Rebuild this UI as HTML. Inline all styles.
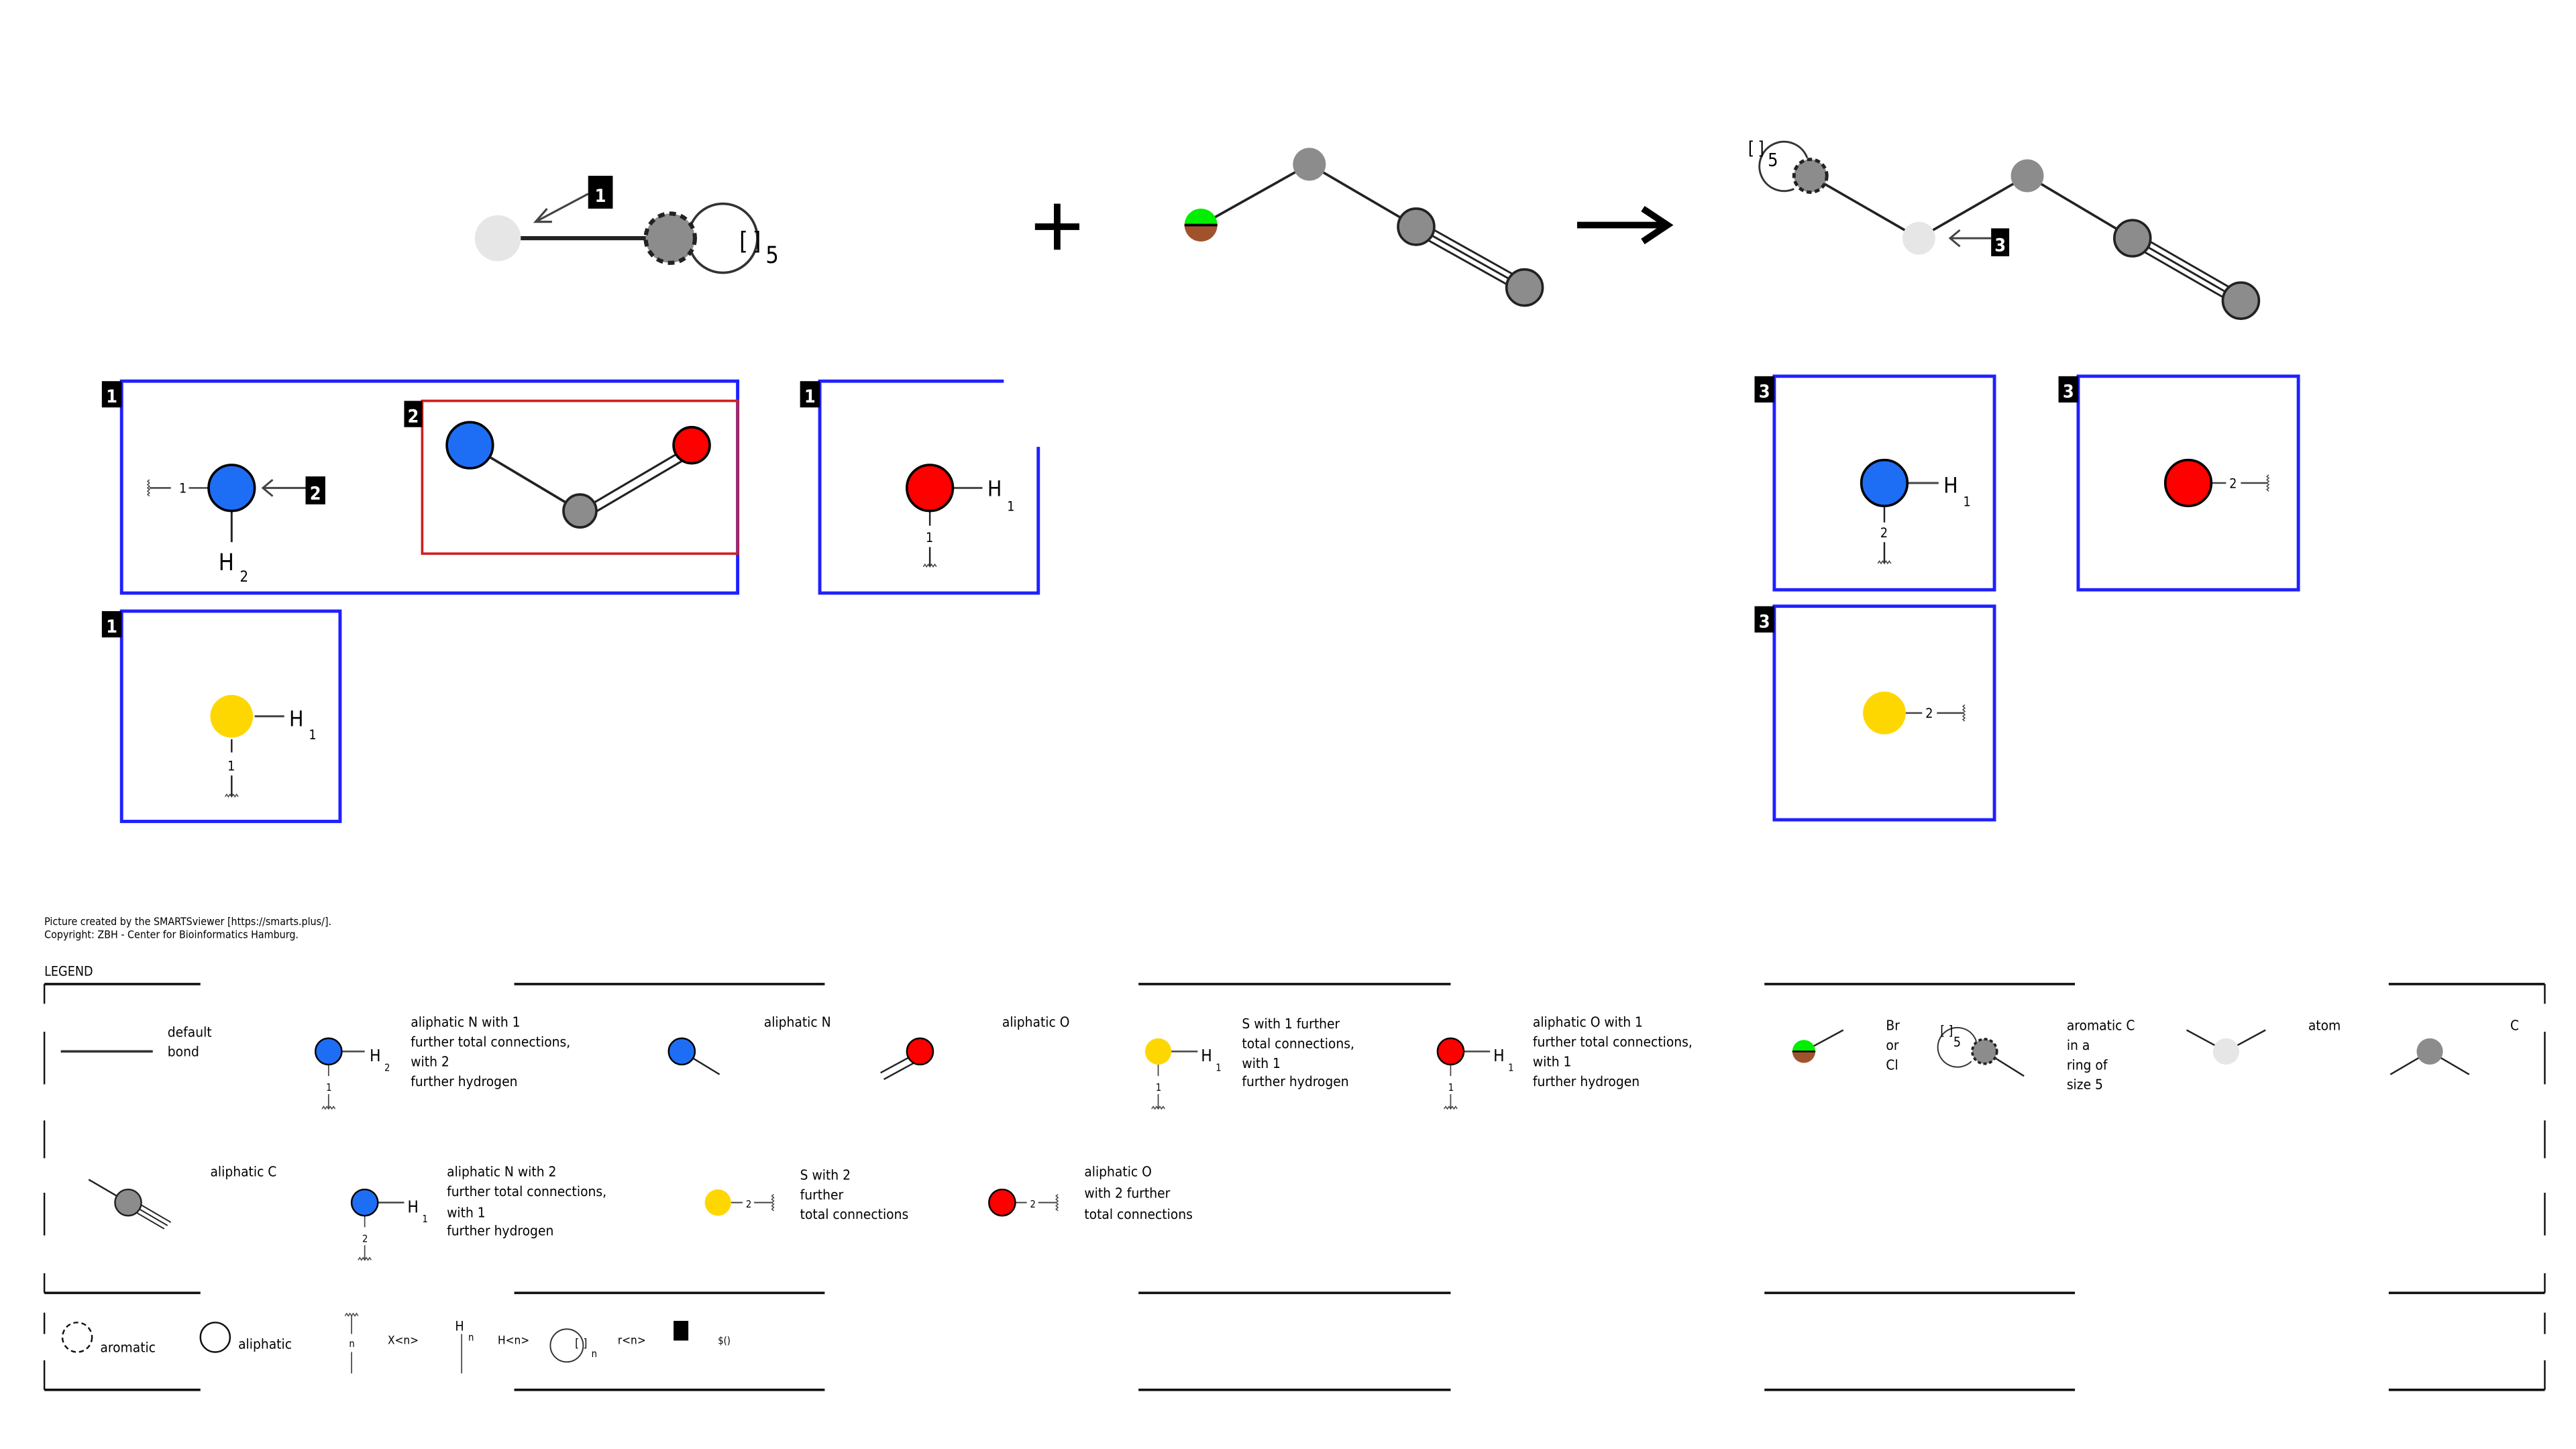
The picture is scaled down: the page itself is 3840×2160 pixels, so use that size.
<!DOCTYPE html>
<html><head><meta charset="utf-8"><style>
html,body{margin:0;padding:0;background:#fff;}
svg{display:block;}
text{font-family:"DejaVu Sans Condensed","DejaVu Sans","Liberation Sans",sans-serif;fill:#000;white-space:pre;}
.t{font-size:8.5px;}
.lbl{fill:#fff;font-size:11px;font-weight:bold;}
</style></head><body>
<svg width="3840" height="2160" viewBox="0 0 1568 882" xmlns="http://www.w3.org/2000/svg">
<rect width="1568" height="882" fill="#fff"/>
<defs>
<path id="wavyV" d="M-4,0 l1,-1.5 l1,1.5 l1,-1.5 l1,1.5 l1,-1.5 l1,1.5 l1,-1.5 l1,1.5" fill="none" stroke="#444" stroke-width="0.6"/>
<path id="wavyH" d="M0,-5 l-1.2,1 l1.2,1 l-1.2,1 l1.2,1 l-1.2,1 l1.2,1 l-1.2,1 l1.2,1 l-1.2,1 l1.2,1" fill="none" stroke="#444" stroke-width="0.6"/>
</defs>

<!-- Reactant 1 -->
<line x1="303" y1="145" x2="408" y2="145" stroke="#222" stroke-width="2.5"/>
<circle cx="303" cy="145" r="14" fill="#e6e6e6"/>
<circle cx="440" cy="145" r="21" fill="none" stroke="#333" stroke-width="1.5"/>
<circle cx="408" cy="145" r="15" fill="#8c8c8c" stroke="#222" stroke-width="2.5" stroke-dasharray="4 3"/>
<text x="450" y="152" font-size="15" fill="#666">[</text><text x="458" y="152" font-size="15" fill="#666">]</text>
<text x="466" y="160" font-size="14" fill="#444">5</text>
<line x1="358" y1="118" x2="326" y2="135" stroke="#444" stroke-width="1.3"/>
<polyline points="333,127 326,135 336,135" fill="none" stroke="#444" stroke-width="1.3"/>
<rect x="358" y="107" width="15" height="20" fill="#000"/>
<text x="365.5" y="123" class="lbl" font-size="15" text-anchor="middle">1</text>

<!-- plus -->
<line x1="630" y1="138" x2="657" y2="138" stroke="#000" stroke-width="4"/>
<line x1="643.5" y1="124" x2="643.5" y2="152" stroke="#000" stroke-width="4"/>

<!-- Reactant 2 -->
<line x1="731" y1="137" x2="797" y2="100" stroke="#222" stroke-width="1.5"/>
<line x1="797" y1="100" x2="862" y2="138" stroke="#222" stroke-width="1.5"/>
<g stroke="#222" stroke-width="1.2">
<line x1="862" y1="138" x2="928" y2="175"/>
<line x1="864" y1="135" x2="930" y2="172"/>
<line x1="860" y1="141" x2="926" y2="178"/>
</g>
<path d="M721,137 a10,10 0 0 1 20,0 z" fill="#00ee00"/>
<path d="M721,137 a10,10 0 0 0 20,0 z" fill="#a0522d"/>
<line x1="721" y1="137" x2="741" y2="137" stroke="#000" stroke-width="1.5"/>
<circle cx="797" cy="100" r="10" fill="#8c8c8c"/>
<circle cx="862" cy="138" r="11" fill="#8c8c8c" stroke="#222" stroke-width="1.5"/>
<circle cx="928" cy="175" r="11" fill="#8c8c8c" stroke="#222" stroke-width="1.5"/>

<!-- arrow -->
<line x1="960" y1="137" x2="1013" y2="137" stroke="#000" stroke-width="4"/>
<polyline points="1000,127 1015,137 1000,147" fill="none" stroke="#000" stroke-width="4"/>

<!-- Product -->
<path d="M1100,96 A15,15 0 1 0 1092,115" fill="none" stroke="#333" stroke-width="1.2"/>
<text x="1064" y="94" font-size="11" fill="#666">[</text><text x="1070" y="94" font-size="11" fill="#666">]</text>
<text x="1076" y="101" font-size="11" fill="#444">5</text>
<line x1="1102" y1="107" x2="1168" y2="145" stroke="#222" stroke-width="1.5"/>
<line x1="1168" y1="145" x2="1234" y2="107" stroke="#222" stroke-width="1.5"/>
<line x1="1234" y1="107" x2="1298" y2="145" stroke="#222" stroke-width="1.5"/>
<g stroke="#222" stroke-width="1.2">
<line x1="1298" y1="145" x2="1364" y2="183"/>
<line x1="1300" y1="142" x2="1366" y2="180"/>
<line x1="1296" y1="148" x2="1362" y2="186"/>
</g>
<circle cx="1102" cy="107" r="10" fill="#8c8c8c" stroke="#222" stroke-width="2" stroke-dasharray="3 2"/>
<circle cx="1168" cy="145" r="10" fill="#e6e6e6"/>
<circle cx="1234" cy="107" r="10" fill="#8c8c8c"/>
<circle cx="1298" cy="145" r="11" fill="#8c8c8c" stroke="#222" stroke-width="1.5"/>
<circle cx="1364" cy="183" r="11" fill="#8c8c8c" stroke="#222" stroke-width="1.5"/>
<line x1="1212" y1="145" x2="1187" y2="145" stroke="#444" stroke-width="1.2"/>
<polyline points="1193,140 1187,145 1193,150" fill="none" stroke="#444" stroke-width="1.2"/>
<rect x="1212" y="139" width="11" height="17" fill="#000"/>
<text x="1217.5" y="153" class="lbl" font-size="13" text-anchor="middle">3</text>

<!-- Box A -->
<rect x="74" y="232" width="375" height="129" fill="none" stroke="#2020ff" stroke-width="2"/>
<rect x="62" y="232" width="12" height="16" fill="#000"/><text x="68" y="245" class="lbl" text-anchor="middle">1</text>
<rect x="257" y="244" width="192" height="93" fill="none" stroke="#d02020" stroke-width="1.5"/>
<rect x="246" y="244" width="11" height="16" fill="#000"/><text x="251.5" y="257" class="lbl" text-anchor="middle">2</text>
<use href="#wavyH" x="91" y="297"/>
<line x1="91" y1="297" x2="104" y2="297" stroke="#444" stroke-width="1"/>
<text x="109" y="300" font-size="8" fill="#444">1</text>
<line x1="115" y1="297" x2="127" y2="297" stroke="#444" stroke-width="1"/>
<line x1="141" y1="311" x2="141" y2="330" stroke="#222" stroke-width="1.2"/>
<circle cx="141" cy="297" r="14" fill="#1e6ef5" stroke="#000" stroke-width="1.5"/>
<line x1="186" y1="297" x2="160" y2="297" stroke="#444" stroke-width="1.2"/>
<polyline points="166,292 160,297 166,302" fill="none" stroke="#444" stroke-width="1.2"/>
<rect x="186" y="290" width="12" height="17" fill="#000"/><text x="192" y="304" class="lbl" font-size="13" text-anchor="middle">2</text>
<text x="133" y="347" font-size="14">H</text><text x="146" y="354" font-size="9">2</text>
<line x1="286" y1="271" x2="353" y2="311" stroke="#222" stroke-width="1.5"/>
<line x1="353" y1="311" x2="421" y2="271" stroke="#222" stroke-width="1.3"/>
<line x1="355" y1="316" x2="423" y2="276" stroke="#222" stroke-width="1.3"/>
<circle cx="286" cy="271" r="14" fill="#1e6ef5" stroke="#000" stroke-width="1.5"/>
<circle cx="353" cy="311" r="10" fill="#8c8c8c" stroke="#222" stroke-width="1.5"/>
<circle cx="421" cy="271" r="11" fill="#ff0000" stroke="#000" stroke-width="1.5"/>

<!-- Box B -->
<polyline points="611,232 499,232 499,361 632,361 632,272" fill="none" stroke="#2020ff" stroke-width="2"/>
<rect x="487" y="232" width="12" height="16" fill="#000"/><text x="493" y="245" class="lbl" text-anchor="middle">1</text>
<line x1="566" y1="311" x2="566" y2="320" stroke="#222" stroke-width="1"/>
<text x="563.5" y="330" font-size="8" fill="#444">1</text>
<line x1="566" y1="333" x2="566" y2="345" stroke="#222" stroke-width="1"/>
<use href="#wavyV" x="566" y="345"/>
<line x1="580" y1="297" x2="598" y2="297" stroke="#444" stroke-width="1.2"/>
<text x="601" y="302" font-size="13">H</text><text x="613" y="311" font-size="8">1</text>
<circle cx="566" cy="297" r="14" fill="#ff0000" stroke="#000" stroke-width="1.5"/>

<!-- Box C -->
<rect x="74" y="372" width="133" height="128" fill="none" stroke="#2020ff" stroke-width="2"/>
<rect x="62" y="372" width="12" height="16" fill="#000"/><text x="68" y="385" class="lbl" text-anchor="middle">1</text>
<line x1="141" y1="450" x2="141" y2="458" stroke="#222" stroke-width="1"/>
<text x="138.5" y="469" font-size="8" fill="#444">1</text>
<line x1="141" y1="472" x2="141" y2="485" stroke="#222" stroke-width="1"/>
<use href="#wavyV" x="141" y="485"/>
<line x1="155" y1="436" x2="173" y2="436" stroke="#444" stroke-width="1.2"/>
<text x="176" y="442" font-size="13">H</text><text x="188" y="450" font-size="8">1</text>
<circle cx="141" cy="436" r="13" fill="#ffd700"/>

<!-- Box D -->
<rect x="1080" y="229" width="134" height="130" fill="none" stroke="#2020ff" stroke-width="2"/>
<rect x="1068" y="229" width="12" height="16" fill="#000"/><text x="1074" y="242" class="lbl" text-anchor="middle">3</text>
<line x1="1147" y1="308" x2="1147" y2="318" stroke="#222" stroke-width="1"/>
<text x="1144.5" y="327" font-size="8" fill="#444">2</text>
<line x1="1147" y1="330" x2="1147" y2="343" stroke="#222" stroke-width="1"/>
<use href="#wavyV" x="1147" y="343"/>
<line x1="1161" y1="294" x2="1180" y2="294" stroke="#444" stroke-width="1.2"/>
<text x="1183" y="300" font-size="13">H</text><text x="1195" y="308" font-size="8">1</text>
<circle cx="1147" cy="294" r="14" fill="#1e6ef5" stroke="#000" stroke-width="1.5"/>

<!-- Box E -->
<rect x="1265" y="229" width="134" height="130" fill="none" stroke="#2020ff" stroke-width="2"/>
<rect x="1253" y="229" width="12" height="16" fill="#000"/><text x="1259" y="242" class="lbl" text-anchor="middle">3</text>
<line x1="1346" y1="294" x2="1355" y2="294" stroke="#444" stroke-width="1"/>
<text x="1357" y="297" font-size="8" fill="#444">2</text>
<line x1="1364" y1="294" x2="1380" y2="294" stroke="#444" stroke-width="1"/>
<use href="#wavyH" x="1381" y="294"/>
<circle cx="1332" cy="294" r="14" fill="#ff0000" stroke="#000" stroke-width="1.5"/>

<!-- Box F -->
<rect x="1080" y="369" width="134" height="130" fill="none" stroke="#2020ff" stroke-width="2"/>
<rect x="1068" y="369" width="12" height="16" fill="#000"/><text x="1074" y="382" class="lbl" text-anchor="middle">3</text>
<line x1="1160" y1="434" x2="1170" y2="434" stroke="#444" stroke-width="1"/>
<text x="1172" y="437" font-size="8" fill="#444">2</text>
<line x1="1179" y1="434" x2="1195" y2="434" stroke="#444" stroke-width="1"/>
<use href="#wavyH" x="1196" y="434"/>
<circle cx="1147" cy="434" r="13" fill="#ffd700"/>

<!-- footer -->
<text x="27" y="563" font-size="6.5">Picture created by the SMARTSviewer [https://smarts.plus/].</text>
<text x="27" y="571" font-size="6.5">Copyright: ZBH - Center for Bioinformatics Hamburg.</text>
<text x="27" y="594" font-size="8">LEGEND</text>

<!-- legend frame -->
<g stroke="#111" stroke-width="1.5">
<line x1="27" y1="599" x2="122" y2="599"/><line x1="313" y1="599" x2="502" y2="599"/><line x1="693" y1="599" x2="883" y2="599"/><line x1="1074" y1="599" x2="1263" y2="599"/><line x1="1454" y1="599" x2="1549" y2="599"/>
<line x1="27" y1="787" x2="122" y2="787"/><line x1="313" y1="787" x2="502" y2="787"/><line x1="693" y1="787" x2="883" y2="787"/><line x1="1074" y1="787" x2="1263" y2="787"/><line x1="1454" y1="787" x2="1549" y2="787"/>
<line x1="27" y1="846" x2="122" y2="846"/><line x1="313" y1="846" x2="502" y2="846"/><line x1="693" y1="846" x2="883" y2="846"/><line x1="1074" y1="846" x2="1263" y2="846"/><line x1="1454" y1="846" x2="1549" y2="846"/>
</g>
<g stroke="#111" stroke-width="1">
<line x1="27" y1="599" x2="27" y2="611"/><line x1="27" y1="628" x2="27" y2="660"/><line x1="27" y1="682" x2="27" y2="705"/><line x1="27" y1="726" x2="27" y2="752"/><line x1="27" y1="775" x2="27" y2="787"/><line x1="27" y1="799" x2="27" y2="812"/><line x1="27" y1="828" x2="27" y2="846"/>
<line x1="1549" y1="599" x2="1549" y2="611"/><line x1="1549" y1="628" x2="1549" y2="660"/><line x1="1549" y1="682" x2="1549" y2="705"/><line x1="1549" y1="726" x2="1549" y2="752"/><line x1="1549" y1="775" x2="1549" y2="787"/><line x1="1549" y1="799" x2="1549" y2="812"/><line x1="1549" y1="828" x2="1549" y2="846"/>
</g>

<!-- legend row 1 -->
<line x1="37" y1="640" x2="93" y2="640" stroke="#333" stroke-width="1.5"/>
<text x="102" y="631" class="t">default</text><text x="102" y="643" class="t">bond</text>

<line x1="208" y1="640" x2="222" y2="640" stroke="#444" stroke-width="1"/>
<text x="225" y="646" font-size="10">H</text><text x="234" y="652" font-size="6">2</text>
<line x1="200" y1="648" x2="200" y2="655" stroke="#444" stroke-width="0.7"/>
<text x="198.5" y="664" font-size="6" fill="#444">1</text>
<line x1="200" y1="666" x2="200" y2="675" stroke="#444" stroke-width="0.7"/>
<use href="#wavyV" x="200" y="675"/>
<circle cx="200" cy="640" r="8" fill="#1e6ef5" stroke="#000" stroke-width="1"/>
<text class="t"><tspan x="250" y="625">aliphatic N with 1</tspan><tspan x="250" y="637">further total connections,</tspan><tspan x="250" y="649">with 2</tspan><tspan x="250" y="661">further hydrogen</tspan></text>

<line x1="415" y1="640" x2="438" y2="654" stroke="#222" stroke-width="1"/>
<circle cx="415" cy="640" r="8" fill="#1e6ef5" stroke="#000" stroke-width="1"/>
<text x="465" y="625" class="t">aliphatic N</text>

<line x1="560" y1="640" x2="536" y2="653" stroke="#222" stroke-width="1"/>
<line x1="560" y1="645" x2="538" y2="657" stroke="#222" stroke-width="1"/>
<circle cx="560" cy="640" r="8" fill="#ff0000" stroke="#000" stroke-width="1"/>
<text x="610" y="625" class="t">aliphatic O</text>

<line x1="713" y1="640" x2="729" y2="640" stroke="#444" stroke-width="1"/>
<text x="731" y="646" font-size="10">H</text><text x="740" y="652" font-size="6">1</text>
<line x1="705" y1="648" x2="705" y2="655" stroke="#444" stroke-width="0.7"/>
<text x="703.5" y="664" font-size="6" fill="#444">1</text>
<line x1="705" y1="666" x2="705" y2="675" stroke="#444" stroke-width="0.7"/>
<use href="#wavyV" x="705" y="675"/>
<circle cx="705" cy="640" r="8" fill="#ffd700"/>
<text class="t"><tspan x="756" y="626">S with 1 further</tspan><tspan x="756" y="638">total connections,</tspan><tspan x="756" y="650">with 1</tspan><tspan x="756" y="661">further hydrogen</tspan></text>

<line x1="891" y1="640" x2="907" y2="640" stroke="#444" stroke-width="1"/>
<text x="909" y="646" font-size="10">H</text><text x="918" y="652" font-size="6">1</text>
<line x1="883" y1="648" x2="883" y2="655" stroke="#444" stroke-width="0.7"/>
<text x="881.5" y="664" font-size="6" fill="#444">1</text>
<line x1="883" y1="666" x2="883" y2="675" stroke="#444" stroke-width="0.7"/>
<use href="#wavyV" x="883" y="675"/>
<circle cx="883" cy="640" r="8" fill="#ff0000" stroke="#000" stroke-width="1"/>
<text class="t"><tspan x="933" y="625">aliphatic O with 1</tspan><tspan x="933" y="637">further total connections,</tspan><tspan x="933" y="649">with 1</tspan><tspan x="933" y="661">further hydrogen</tspan></text>

<line x1="1098" y1="640" x2="1122" y2="627" stroke="#222" stroke-width="1"/>
<path d="M1091,640 a7,7 0 0 1 14,0 z" fill="#00ee00"/>
<path d="M1091,640 a7,7 0 0 0 14,0 z" fill="#a0522d"/>
<line x1="1091" y1="640" x2="1105" y2="640" stroke="#000" stroke-width="1"/>
<text class="t"><tspan x="1148" y="627">Br</tspan><tspan x="1148" y="639">or</tspan><tspan x="1148" y="651">Cl</tspan></text>

<path d="M1203,634 A12,12 0 1 0 1200,646" fill="none" stroke="#333" stroke-width="0.8"/>
<text x="1181" y="630" font-size="8" fill="#666">[</text><text x="1186" y="630" font-size="8" fill="#666">]</text><text x="1189" y="637" font-size="8" fill="#444">5</text>
<line x1="1208" y1="640" x2="1232" y2="655" stroke="#222" stroke-width="1"/>
<circle cx="1208" cy="640" r="7.5" fill="#8c8c8c" stroke="#222" stroke-width="1.5" stroke-dasharray="2 1.5"/>
<text class="t"><tspan x="1258" y="627">aromatic C</tspan><tspan x="1258" y="639">in a</tspan><tspan x="1258" y="651">ring of</tspan><tspan x="1258" y="663">size 5</tspan></text>

<line x1="1355" y1="640" x2="1331" y2="627" stroke="#222" stroke-width="1"/>
<line x1="1355" y1="640" x2="1379" y2="627" stroke="#222" stroke-width="1"/>
<circle cx="1355" cy="640" r="8" fill="#e6e6e6"/>
<text x="1405" y="627" class="t">atom</text>

<line x1="1479" y1="640" x2="1455" y2="654" stroke="#222" stroke-width="1"/>
<line x1="1479" y1="640" x2="1503" y2="654" stroke="#222" stroke-width="1"/>
<circle cx="1479" cy="640" r="8" fill="#8c8c8c"/>
<text x="1528" y="627" class="t">C</text>

<!-- legend row 2 -->
<line x1="78" y1="732" x2="54" y2="718" stroke="#222" stroke-width="1"/>
<g stroke="#222" stroke-width="0.8">
<line x1="78" y1="732" x2="102" y2="746"/><line x1="80" y1="730" x2="104" y2="744"/><line x1="76" y1="734" x2="100" y2="748"/>
</g>
<circle cx="78" cy="732" r="8" fill="#8c8c8c" stroke="#222" stroke-width="1"/>
<text x="128" y="716" class="t">aliphatic C</text>

<line x1="230" y1="732" x2="246" y2="732" stroke="#444" stroke-width="1"/>
<text x="248" y="738" font-size="10">H</text><text x="257" y="744" font-size="6">1</text>
<line x1="222" y1="740" x2="222" y2="747" stroke="#444" stroke-width="0.7"/>
<text x="220.5" y="756" font-size="6" fill="#444">2</text>
<line x1="222" y1="758" x2="222" y2="767" stroke="#444" stroke-width="0.7"/>
<use href="#wavyV" x="222" y="767"/>
<circle cx="222" cy="732" r="8" fill="#1e6ef5" stroke="#000" stroke-width="1"/>
<text class="t"><tspan x="272" y="716">aliphatic N with 2</tspan><tspan x="272" y="728">further total connections,</tspan><tspan x="272" y="741">with 1</tspan><tspan x="272" y="752">further hydrogen</tspan></text>

<line x1="445" y1="732" x2="452" y2="732" stroke="#444" stroke-width="0.8"/>
<text x="454" y="735" font-size="6" fill="#444">2</text>
<line x1="459" y1="732" x2="470" y2="732" stroke="#444" stroke-width="0.8"/>
<use href="#wavyH" x="471" y="732"/>
<circle cx="437" cy="732" r="8" fill="#ffd700"/>
<text class="t"><tspan x="487" y="718">S with 2</tspan><tspan x="487" y="730">further</tspan><tspan x="487" y="742">total connections</tspan></text>

<line x1="618" y1="732" x2="625" y2="732" stroke="#444" stroke-width="0.8"/>
<text x="627" y="735" font-size="6" fill="#444">2</text>
<line x1="632" y1="732" x2="643" y2="732" stroke="#444" stroke-width="0.8"/>
<use href="#wavyH" x="644" y="732"/>
<circle cx="610" cy="732" r="8" fill="#ff0000" stroke="#000" stroke-width="1"/>
<text class="t"><tspan x="660" y="716">aliphatic O</tspan><tspan x="660" y="729">with 2 further</tspan><tspan x="660" y="742">total connections</tspan></text>

<!-- legend row 3 -->
<circle cx="47" cy="814" r="9" fill="none" stroke="#111" stroke-width="1" stroke-dasharray="3 2"/>
<text x="61" y="823" class="t">aromatic</text>
<circle cx="131" cy="814" r="9" fill="none" stroke="#111" stroke-width="1"/>
<text x="145" y="821" class="t">aliphatic</text>
<use href="#wavyV" x="214" y="801"/>
<line x1="214" y1="801" x2="214" y2="812" stroke="#444" stroke-width="0.7"/>
<text x="212.5" y="820" font-size="6" fill="#444">n</text>
<line x1="214" y1="823" x2="214" y2="836" stroke="#444" stroke-width="0.7"/>
<text x="236" y="818" font-size="7">X&lt;n&gt;</text>
<text x="277" y="810" font-size="8">H</text><text x="285" y="816" font-size="6">n</text>
<line x1="281" y1="812" x2="281" y2="836" stroke="#444" stroke-width="0.7"/>
<text x="303" y="818" font-size="7">H&lt;n&gt;</text>
<circle cx="345" cy="819" r="10" fill="none" stroke="#333" stroke-width="0.8"/>
<text x="350" y="820" font-size="7" fill="#666">[</text><text x="355" y="820" font-size="7" fill="#666">]</text><text x="360" y="826" font-size="6" fill="#444">n</text>
<text x="376" y="818" font-size="7">r&lt;n&gt;</text>
<rect x="410" y="804" width="9" height="12" fill="#000"/><text x="414.5" y="814" font-size="9" fill="#fff" font-weight="bold" text-anchor="middle">1</text>
<text x="437" y="818" font-size="6">$()</text>
</svg>
</body></html>
